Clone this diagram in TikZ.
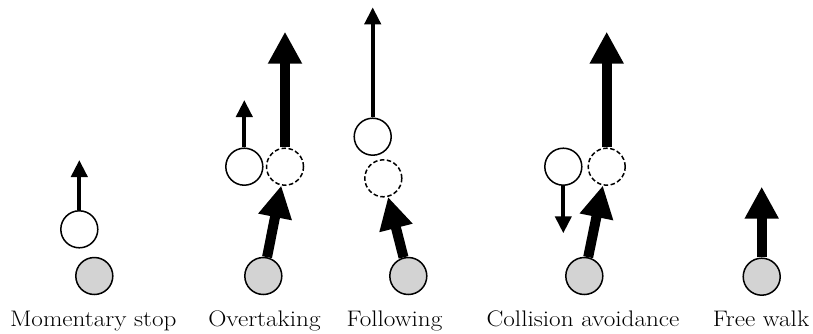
\documentclass[tikz,border=0pt]{standalone}
\usetikzlibrary{arrows.meta}
\definecolor{bodygray}{RGB}{211,211,211}
\newcommand{\widetext}[1]{\scalebox{1.12}[1]{#1}}
\begin{document}
\begin{tikzpicture}[x=1pt,y=-1pt,
  agent/.style={circle,draw,line width=1.5pt,minimum size=37pt,inner sep=0pt,fill=white},
  current/.style={agent,fill=bodygray},
  ghost/.style={agent,dash pattern=on 4.5pt off 2.5pt},
  slimarrow/.style={line width=4pt,-{Triangle[length=17pt,width=16pt]}},
  boldarrow/.style={line width=10pt,-{Triangle[length=32pt,width=32pt]}},
  captext/.style={anchor=base,inner sep=0pt,font=\fontsize{22.5}{27}\selectfont}]
\useasboundingbox (0,0) rectangle (813,333);

% Momentary stop
\node[agent]   (w1) at (79.3,229.3) {};
\node[current] (g1) at (94.3,276) {};
\coordinate (t1) at (79.3,160);
\draw[slimarrow] (w1.north) -- (t1);
\node[captext] (c1) at (93.3,326.5) {\widetext{Momentary stop}};

% Overtaking
\node[agent]   (w2) at (244.3,166.7) {};
\node[ghost]   (d2) at (285,166.7) {};
\node[current] (g2) at (263.3,276) {};
\coordinate (t2a) at (244.3,100);
\coordinate (t2b) at (285,31.7);
\draw[slimarrow] (w2.north) -- (t2a);
\draw[boldarrow] (d2.north) -- (t2b);
\draw[boldarrow] (g2) -- (d2);
\node[captext] (c2) at (264.5,326.5) {\widetext{Overtaking}};

% Following
\node[agent]   (w3) at (372.7,136.7) {};
\node[ghost]   (d3) at (383.3,178.3) {};
\node[current] (g3) at (408.3,276) {};
\coordinate (t3) at (372.7,7.3);
\draw[slimarrow] (w3.north) -- (t3);
\draw[boldarrow] (g3) -- (d3);
\node[captext] (c3) at (394.5,326.5) {\widetext{Following}};

% Collision avoidance
\node[agent]   (w4) at (563.3,166.7) {};
\node[ghost]   (d4) at (606.7,166.7) {};
\node[current] (g4) at (584.3,276) {};
\coordinate (t4a) at (563.3,233.3);
\coordinate (t4b) at (606.7,31.7);
\draw[slimarrow] (w4.south) -- (t4a);
\draw[boldarrow] (d4.north) -- (t4b);
\draw[boldarrow] (g4) -- (d4);
\node[captext] (c4) at (583,326.5) {\widetext{Collision avoidance}};

% Free walk
\node[current] (g5) at (761.7,276.7) {};
\coordinate (t5) at (761.7,186.7);
\draw[boldarrow] (g5.north) -- (t5);
\node[captext] (c5) at (761,326.5) {\widetext{Free walk}};
\end{tikzpicture}
\end{document}
